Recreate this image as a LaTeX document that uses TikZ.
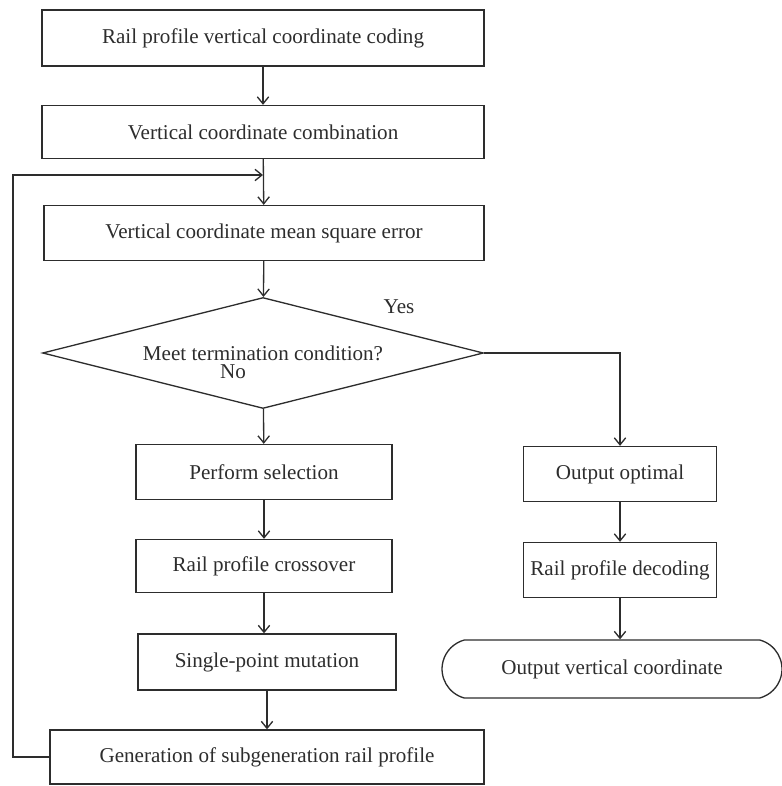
\documentclass[tikz,border=0pt]{standalone}
\usepackage{fontspec}
\setmainfont{Liberation Serif}
\usepackage{tikz}
\usetikzlibrary{shapes.geometric}
\usetikzlibrary{shapes.misc}
\usetikzlibrary{arrows.meta}

\definecolor{flowgray}{RGB}{45,45,45}

\tikzset{
  procbox/.style={draw=flowgray, line width=0.75pt, text=flowgray, rectangle, inner sep=0pt, font=\large},
  decbox/.style={draw=flowgray, line width=0.75pt, text=flowgray, diamond, aspect=3.97, inner sep=0pt, font=\large},
  termbox/.style={draw=flowgray, line width=0.75pt, text=flowgray, rounded rectangle, rounded rectangle arc length=150, inner sep=0pt, font=\large},
  flowarrow/.style={draw=flowgray, line width=0.75pt, -{Straight Barb[length=4pt,width=6.5pt]}},
  flowline/.style={draw=flowgray, line width=0.75pt}
}

\begin{document}
\begin{tikzpicture}[x=0.02cm, y=-0.02cm]
\useasboundingbox (0,0) rectangle (781,786);

% main column
\node[procbox, minimum width=8.84cm, minimum height=1.12cm] (coding) at (263,38) {Rail profile vertical coordinate coding};
\node[procbox, minimum width=8.84cm, minimum height=1.06cm] (combine) at (263,132) {Vertical coordinate combination};
\node[procbox, minimum width=8.8cm, minimum height=1.1cm] (mse) at (264,233) {Vertical coordinate mean square error};
\node[decbox, minimum width=8.82cm, minimum height=2.22cm] (meet) at (263,353) {Meet termination condition?};

% no branch
\node[procbox, minimum width=5.12cm, minimum height=1.1cm] (select) at (264,472) {Perform selection};
\node[procbox, minimum width=5.12cm, minimum height=1.06cm] (cross) at (264,566) {Rail profile crossover};
\node[procbox, minimum width=5.16cm, minimum height=1.12cm] (mutate) at (267,662) {Single-point mutation};
\node[procbox, minimum width=8.68cm, minimum height=1.08cm] (subgen) at (267,757) {Generation of subgeneration rail profile};

% yes branch
\node[procbox, minimum width=3.86cm, minimum height=1.1cm] (optimal) at (620,474) {Output optimal};
\node[procbox, minimum width=3.86cm, minimum height=1.1cm] (decode) at (620,570) {Rail profile decoding};
\node[termbox, minimum width=6.8cm, minimum height=1.16cm] (output) at (612,669) {Output vertical coordinate};

% labellings
\node[text=flowgray, font=\large] (yes) at (399,307) {Yes};
\node[text=flowgray, font=\large] (no) at (233,372) {No};

% connectors
\coordinate (loopin) at (263,175);
\coordinate (loopcorner) at (13,175);

\draw[flowarrow] (coding) -- (combine);
\draw[flowarrow] (combine) -- (mse);
\draw[flowarrow] (mse) -- (meet);
\draw[flowarrow] (meet) -- (select);
\draw[flowarrow] (select) -- (cross);
\draw[flowarrow] (cross.south) -- (mutate.north -| cross.south);
\draw[flowarrow] (mutate.south) -- (subgen.north -| mutate.south);
\draw[flowarrow] (meet.east) -| (optimal.north);
\draw[flowarrow] (optimal) -- (decode);
\draw[flowarrow] (decode.south) -- (output.north -| decode.south);
\draw[flowarrow] (subgen.west) -| (loopcorner) -- (loopin);

\end{tikzpicture}
\end{document}
